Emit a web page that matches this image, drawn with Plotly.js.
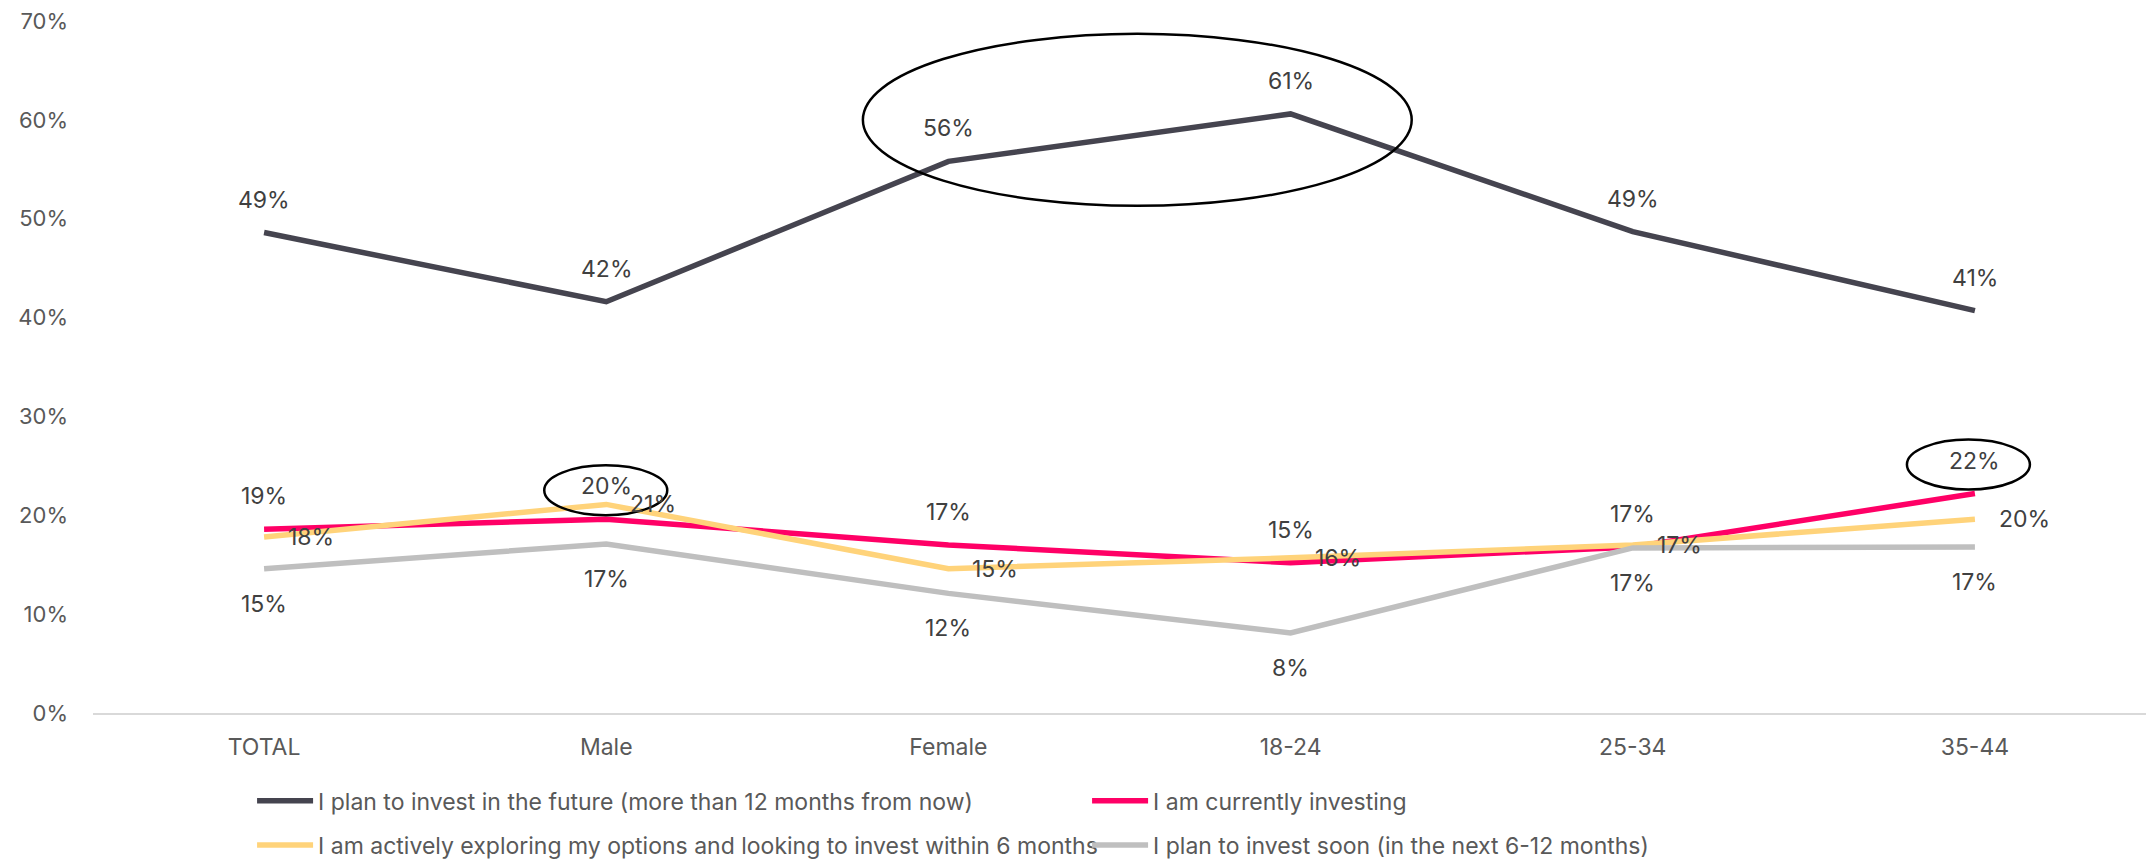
<!DOCTYPE html>
<html>
<head>
<meta charset="utf-8">
<script src="https://cdn.plot.ly/plotly-3.0.1.min.js"></script>
<style>
  html, body { margin: 0; padding: 0; background: #ffffff; }
  #chart { width: 2149px; height: 861px; }
</style>
</head>
<body>
<div id="chart"></div>
<script>
// ---- data ----
const categories = ['TOTAL', 'Male', 'Female', '18-24', '25-34', '35-44'];
const yTickValues = [0, 10, 20, 30, 40, 50, 60, 70];
const yTickLabels = ['0%', '10%', '20%', '30%', '40%', '50%', '60%', '70%'];

const futureName = 'I plan to invest in the future (more than 12 months from now)';
const futureValues = [48.6, 41.6, 55.8, 60.6, 48.7, 40.7];

const currentName = 'I am currently investing';
const currentValues = [18.6, 19.6, 17.0, 15.2, 16.8, 22.2];

const exploringName = 'I am actively exploring my options and looking to invest within 6 months';
const exploringValues = [17.8, 21.1, 14.6, 15.7, 17.0, 19.6];

const soonName = 'I plan to invest soon (in the next 6-12 months)';
const soonValues = [14.6, 17.1, 12.1, 8.1, 16.7, 16.8];

// highlighted points (category index) of the "currently investing" series
const highlightedCurrent = [1, 5];

// ---- styling ----
const FONT = 'Inter, "Open Sans", Arial, sans-serif';
const colors = {
  future: '#45444F',
  current: '#FF0066',
  exploring: '#FFD37A',
  soon: '#BFBFBF'
};
const LW = 5.5;

function lineTrace(name, values, color, legendId) {
  return {
    type: 'scatter',
    mode: 'lines',
    name: name,
    x: categories,
    y: values,
    line: { color: color, width: LW, shape: 'linear' },
    legend: legendId,
    hoverinfo: 'skip'
  };
}

const traces = [
  lineTrace(futureName, futureValues, colors.future, 'legend'),
  lineTrace(currentName, currentValues, colors.current, 'legend'),
  lineTrace(exploringName, exploringValues, colors.exploring, 'legend2'),
  lineTrace(soonName, soonValues, colors.soon, 'legend2')
];

// data labels as annotations anchored to the data points
function labels(values, pos) {
  return values.map((v, i) => {
    const a = {
      x: i, y: v, xref: 'x', yref: 'y',
      text: Math.round(v) + '%',
      showarrow: false,
      font: { family: FONT, size: 23, color: '#404040' },
      xanchor: 'center', yanchor: 'middle'
    };
    if (pos === 'top') a.yshift = 33;
    if (pos === 'bottom') a.yshift = -35;
    if (pos === 'right') { a.xanchor = 'left'; a.xshift = 22; }
    return a;
  });
}

const annotations = []
  .concat(labels(futureValues, 'top'))
  .concat(labels(currentValues, 'top'))
  .concat(labels(exploringValues, 'right'))
  .concat(labels(soonValues, 'bottom'));

// ellipses
const shapes = [
  {
    type: 'circle', xref: 'x', yref: 'y',
    x0: 1.75, x1: 3.354, y0: 51.3, y1: 68.7,
    line: { color: '#000000', width: 2.5 }, fillcolor: 'rgba(0,0,0,0)'
  }
].concat(highlightedCurrent.map(i => ({
  type: 'circle', xref: 'x', yref: 'y',
  xsizemode: 'pixel', ysizemode: 'pixel',
  xanchor: i, yanchor: currentValues[i],
  x0: i === 5 ? -68 : -62, x1: i === 5 ? 55 : 61,
  y0: 4, y1: 54,
  line: { color: '#000000', width: 2.5 }, fillcolor: 'rgba(0,0,0,0)'
})));

const legendCommon = {
  orientation: 'h',
  xref: 'container', yref: 'container',
  xanchor: 'left', yanchor: 'middle',
  x: 0.1173,
  font: { family: FONT, size: 23, color: '#595959' },
  bgcolor: 'rgba(0,0,0,0)',
  borderwidth: 0,
  itemwidth: 56,
  entrywidth: 764,
  entrywidthmode: 'pixels',
  itemclick: false,
  itemdoubleclick: false,
  traceorder: 'normal'
};

const layout = {
  width: 2149,
  height: 861,
  margin: { l: 93, r: 3, t: 21, b: 148, pad: 0 },
  paper_bgcolor: '#ffffff',
  plot_bgcolor: '#ffffff',
  font: { family: FONT, size: 22, color: '#595959' },
  showlegend: true,
  xaxis: {
    type: 'category',
    categoryorder: 'array',
    categoryarray: categories,
    range: [-0.5, categories.length - 0.5],
    showgrid: false,
    zeroline: false,
    showline: true,
    linecolor: '#D9D9D9',
    linewidth: 2,
    ticks: '',
    ticklabelstandoff: 12,
    tickfont: { family: FONT, size: 23, color: '#595959' },
    fixedrange: true,
    automargin: false
  },
  yaxis: {
    range: [0, 70],
    tickvals: yTickValues,
    ticktext: yTickLabels,
    showgrid: false,
    zeroline: false,
    showline: false,
    ticks: '',
    ticklabelstandoff: 24,
    tickfont: { family: FONT, size: 22, color: '#595959' },
    fixedrange: true,
    automargin: false
  },
  legend: Object.assign({}, legendCommon, { y: 0.070 }),
  legend2: Object.assign({}, legendCommon, { y: 0.0185 }),
  annotations: annotations,
  shapes: shapes
};

Plotly.newPlot('chart', traces, layout, { displayModeBar: false, staticPlot: true });
</script>
</body>
</html>
